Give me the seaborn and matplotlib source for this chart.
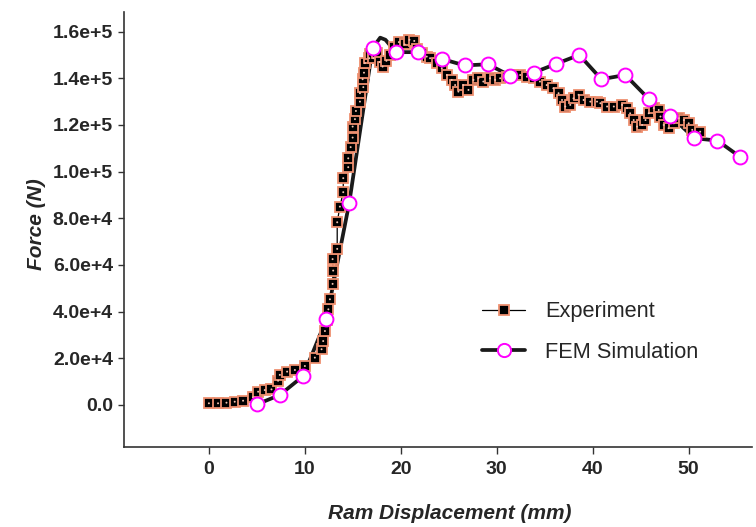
import numpy as np
import pandas as pd
import matplotlib
matplotlib.use("Agg")
import matplotlib.pyplot as plt
from matplotlib.lines import Line2D
from matplotlib.ticker import FuncFormatter
import seaborn as sns

# ---------------- data ----------------
exp_x = [0.0, 0.95, 1.83, 2.69, 3.56, 4.6, 5.13, 5.82, 6.52, 7.21, 7.39, 8.15, 8.96, 10.0,
         11.04, 11.74, 11.91, 12.09, 12.3, 12.45, 12.61, 12.89, 12.95, 12.89, 13.37, 13.37,
         13.65, 14.0, 14.0, 14.52, 14.52, 14.77, 14.98, 14.98, 15.22, 15.32, 15.74, 15.74,
         16.09, 16.02, 16.16, 16.26, 16.71, 16.78, 17.13, 17.5, 17.8, 18.1, 18.5, 18.9,
         19.3, 19.8, 20.4, 20.9, 21.4, 21.7, 22.2, 22.7, 23.05, 23.75, 24.27, 24.8, 25.3,
         25.66, 26.0, 26.5, 27.05, 27.57, 28.09, 28.6, 29.3, 29.83, 30.35, 31.05, 31.74,
         32.44, 33.14, 33.83, 34.5, 35.2, 35.9, 36.44, 36.8, 37.14, 37.66, 38.0, 38.53,
         39.05, 39.75, 40.45, 40.8, 41.5, 42.2, 43.06, 43.58, 43.9, 44.27, 44.62, 45.15,
         45.5, 45.84, 46.36, 46.88, 47.06, 47.4, 47.9, 48.45, 48.97, 49.5, 50.0, 50.37, 51.2]
exp_y = [730, 730, 990, 1410, 1840, 3300, 5700, 6400, 6700, 10400, 12900, 14300, 15000, 16700,
         20300, 23900, 27400, 31700, 36500, 41000, 45300, 51900, 57600, 62500, 66900, 78300,
         85000, 91200, 97200, 101900, 105700, 110500, 114600, 119300, 122500, 126000, 130000, 133600,
         136200, 139600, 142400, 146500, 148600, 150400, 148600, 151000, 147000, 145000, 147500, 150000,
         153500, 155500, 154500, 156500, 156000, 152500, 151000, 149300, 148600, 146500, 144300, 141400, 139300,
         137100, 134300, 137100, 135000, 139300, 140000, 138600, 140000, 139300, 140000, 140700, 141400,
         141400, 140700, 140000, 138600, 137100, 135700, 133600, 130700, 127900, 128600, 131400, 132900,
         130700, 130000, 130000, 129300, 127900, 127900, 128600, 127200, 125000, 122100, 119300, 120000,
         122100, 125000, 127200, 126400, 123600, 120000, 118600, 120700, 122900, 122100, 120700, 117900, 117100]

fem_x = [5.02, 7.39, 9.82, 12.24, 14.62, 17.05, 17.85, 18.4, 19.47, 21.83, 24.27, 26.65, 29.07,
         31.4, 33.83, 36.2, 38.6, 40.9, 43.4, 45.83, 48.1, 50.6, 53.0, 55.4]
fem_y = [300, 4300, 12400, 36700, 86500, 152900, 157400, 156500, 151200, 151200, 148300, 145500, 146000,
         141100, 142400, 146200, 150000, 139600, 141400, 131200, 123900, 114300, 113300, 106200]
fem_marked = [True, True, True, True, True, True, False, False, True, True, True, True, True,
              True, True, True, True, True, True, True, True, True, True, True]

x_ticks = [0, 10, 20, 30, 40, 50]
y_ticks = [0, 20000, 40000, 60000, 80000, 100000, 120000, 140000, 160000]
series_labels = ["Experiment", "FEM Simulation"]

exp_df = pd.DataFrame({"x": exp_x, "y": exp_y})
fem_df = pd.DataFrame({"x": fem_x, "y": fem_y, "m": fem_marked})
fem_pts = fem_df[fem_df["m"]]

# ---------------- style ----------------
sns.set_theme(style="ticks")
plt.rcParams["font.family"] = ["Liberation Sans", "DejaVu Sans"]

SALMON = "#EE9070"
MAGENTA = "#FF00FF"
SQ = 7.0

fig = plt.figure(figsize=(7.56, 5.27), dpi=100)
ax = fig.add_axes([124 / 756, 1 - 447 / 527, (752 - 124) / 756, (447 - 12) / 527])

# FEM line (below)
sns.lineplot(data=fem_df, x="x", y="y", ax=ax, sort=False, estimator=None,
             color="#1a1a1a", lw=2.7, zorder=2, legend=False)
# Experiment line + squares
sns.lineplot(data=exp_df, x="x", y="y", ax=ax, sort=False, estimator=None,
             color="black", lw=0.9, marker="s", markersize=SQ, markerfacecolor="black",
             markeredgecolor=SALMON, markeredgewidth=1.3, zorder=3, legend=False)
# center dots
sns.scatterplot(data=exp_df, x="x", y="y", ax=ax, s=2, color="#F3C3B0",
                edgecolor="none", linewidth=0, zorder=3.5, legend=False)
# FEM markers (on top)
sns.scatterplot(data=fem_pts, x="x", y="y", ax=ax, s=100, facecolor="white",
                edgecolor=MAGENTA, linewidth=1.4, zorder=4, legend=False)

ax.set_xlim(-8.85, 56.6)
ax.set_ylim(-18000, 168400)
ax.set_xticks(x_ticks)
ax.set_yticks(y_ticks)


def yfmt(v, pos):
    if v == 0:
        return "0.0"
    e = int(np.floor(np.log10(abs(v))))
    m = v / 10 ** e
    return f"{m:.1f}e+{e}"


ax.yaxis.set_major_formatter(FuncFormatter(yfmt))
ax.tick_params(axis="y", length=4, width=1, color="#333333", pad=4, labelsize=14)
ax.tick_params(axis="x", length=5, width=1, color="#333333", pad=5, labelsize=14)
for lab in ax.get_xticklabels() + ax.get_yticklabels():
    lab.set_fontweight("bold")

sns.despine(ax=ax)
for s in ["left", "bottom"]:
    ax.spines[s].set_color("#333333")
    ax.spines[s].set_linewidth(1.2)

ax.set_xlabel("Ram Displacement (mm)", fontsize=15, fontweight="bold", fontstyle="italic")
ax.set_ylabel("Force (N)", fontsize=15, fontweight="bold", fontstyle="italic")
ax.xaxis.set_label_coords((450 - 124) / 628, (447 - 504) / 435)
ax.yaxis.set_label_coords((46 - 124) / 628, (447 - 224) / 435)

handles = [
    Line2D([], [], color="black", lw=0.9, marker="s", markersize=SQ, markerfacecolor="black",
           markeredgecolor=SALMON, markeredgewidth=1.3),
    Line2D([], [], color="#1a1a1a", lw=2.7, marker="o", markersize=9.5, markerfacecolor="white",
           markeredgecolor=MAGENTA, markeredgewidth=1.4),
]
fig.legend(handles, series_labels, loc="center", bbox_to_anchor=(590 / 756, 1 - 332 / 527),
           frameon=False, fontsize=15.7, handlelength=2.0, handletextpad=0.9, labelspacing=0.9)

fig.savefig("out.png", dpi=100)
